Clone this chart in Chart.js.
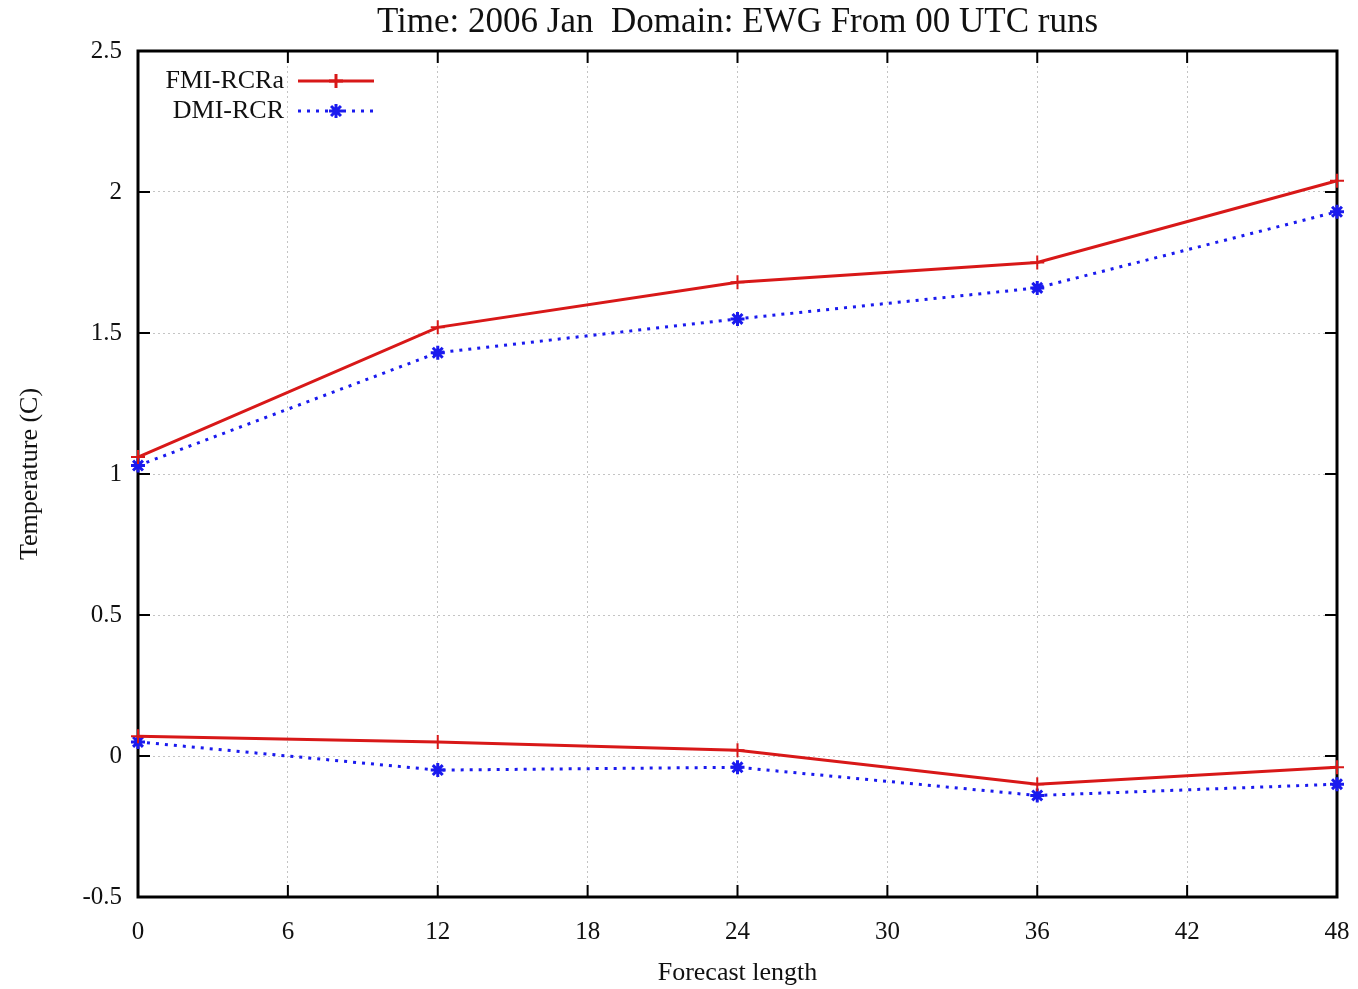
<!DOCTYPE html>
<html>
<head>
<meta charset="utf-8">
<script src="https://cdn.jsdelivr.net/npm/chart.js@4/dist/chart.umd.min.js"></script>
<style>
  html, body { margin: 0; padding: 0; background: #fff; }
  #wrap { width: 1358px; height: 989px; }
</style>
</head>
<body>
<div id="wrap"><canvas id="tempChart"></canvas></div>
<script>
// forecast lengths (hours)
const leadTimes = [0, 12, 24, 36, 48];
// FMI-RCRa: upper curve and lower curve
const fmiUpper = [1.06, 1.52, 1.68, 1.75, 2.04];
const fmiLower = [0.07, 0.05, 0.02, -0.10, -0.04];
// DMI-RCR: upper curve and lower curve
const dmiUpper = [1.03, 1.43, 1.55, 1.66, 1.93];
const dmiLower = [0.05, -0.05, -0.04, -0.14, -0.10];
const xTicks = [0, 6, 12, 18, 24, 30, 36, 42, 48];
const yTicks = [-0.5, 0, 0.5, 1, 1.5, 2, 2.5];
const seriesNames = ['FMI-RCRa', 'DMI-RCR'];
const chartTitle = 'Time: 2006 Jan  Domain: EWG From 00 UTC runs';

const FONT = '"Liberation Serif", "DejaVu Serif", serif';
const RED = '#d81818';
const BLUE = '#1a1aee';

function pts(vals) {
    return leadTimes.map((x, i) => ({ x: x, y: vals[i] }));
}

function fmiSet(vals) {
    return {
        label: seriesNames[0],
        data: pts(vals),
        borderColor: RED,
        backgroundColor: RED,
        borderWidth: 3,
        pointStyle: 'cross',
        pointRadius: 7,
        pointBorderWidth: 2,
        clip: false
    };
}
function dmiSet(vals) {
    return {
        label: seriesNames[1],
        data: pts(vals),
        borderColor: BLUE,
        backgroundColor: BLUE,
        borderWidth: 3,
        borderDash: [3, 6],
        pointStyle: 'star',
        pointRadius: 7,
        pointBorderWidth: 3,
        clip: false
    };
}

// title over the plot, frame, inward ticks and the in-plot legend, gnuplot style
const gnuplotFrame = {
    id: 'gnuplotFrame',
    beforeDatasetsDraw(chart) {
        const { ctx, chartArea: a, scales } = chart;
        ctx.save();
        ctx.strokeStyle = '#000';
        ctx.lineWidth = 2;
        ctx.beginPath();
        xTicks.forEach(v => {
            const px = scales.x.getPixelForValue(v);
            ctx.moveTo(px, a.bottom); ctx.lineTo(px, a.bottom - 12);
            ctx.moveTo(px, a.top); ctx.lineTo(px, a.top + 12);
        });
        yTicks.forEach(v => {
            const py = scales.y.getPixelForValue(v);
            ctx.moveTo(a.left, py); ctx.lineTo(a.left + 12, py);
            ctx.moveTo(a.right, py); ctx.lineTo(a.right - 12, py);
        });
        ctx.stroke();
        ctx.lineWidth = 3;
        ctx.strokeRect(a.left, a.top, a.right - a.left, a.bottom - a.top);
        ctx.restore();
    },
    afterDraw(chart) {
        const { ctx, chartArea: a } = chart;
        ctx.save();
        ctx.fillStyle = '#111';
        ctx.font = '35px ' + FONT;
        ctx.textAlign = 'center';
        ctx.textBaseline = 'middle';
        ctx.fillText(chartTitle, (a.left + a.right) / 2, 23);

        const rows = [chart.data.datasets[0], chart.data.datasets[2]];
        ctx.font = '26px ' + FONT;
        ctx.textAlign = 'right';
        rows.forEach((ds, i) => {
            const y = a.top + 30 + i * 30;
            const x0 = a.left + 160;
            ctx.fillStyle = '#111';
            ctx.fillText(ds.label, a.left + 146, y);
            ctx.strokeStyle = ds.borderColor;
            ctx.lineWidth = ds.borderWidth;
            ctx.setLineDash(ds.borderDash || []);
            ctx.beginPath();
            ctx.moveTo(x0, y); ctx.lineTo(x0 + 76, y);
            ctx.stroke();
            ctx.setLineDash([]);
            Chart.helpers.drawPoint(ctx, {
                pointStyle: ds.pointStyle, radius: ds.pointRadius,
                borderWidth: ds.pointBorderWidth, rotation: 0
            }, x0 + 38, y);
        });
        ctx.restore();
    }
};

document.addEventListener('DOMContentLoaded', () => {
    const ctx = document.getElementById('tempChart').getContext('2d');
    new Chart(ctx, {
        type: 'line',
        data: {
            datasets: [fmiSet(fmiUpper), fmiSet(fmiLower), dmiSet(dmiUpper), dmiSet(dmiLower)]
        },
        options: {
            responsive: true,
            maintainAspectRatio: false,
            animation: false,
            layout: { padding: { left: 0, right: 21, top: 51, bottom: 0 } },
            plugins: {
                legend: { display: false },
                tooltip: { enabled: false },
                title: { display: false }
            },
            scales: {
                x: {
                    type: 'linear',
                    min: 0,
                    max: 48,
                    afterFit: s => { s.height = 92; s.paddingLeft = 0; s.paddingRight = 0; },
                    afterBuildTicks: s => { s.ticks = xTicks.map(v => ({ value: v })); },
                    grid: { color: '#c4c4c4', drawTicks: false, lineWidth: 1 },
                    border: { display: false, dash: [2, 3] },
                    ticks: { color: '#111', padding: 20, font: { family: FONT, size: 25 } },
                    title: {
                        display: true,
                        text: 'Forecast length',
                        color: '#111',
                        font: { family: FONT, size: 26 },
                        padding: { top: 0, bottom: 0 }
                    }
                },
                y: {
                    type: 'linear',
                    min: -0.5,
                    max: 2.5,
                    afterFit: s => { s.width = 138; s.paddingTop = 0; s.paddingBottom = 0; },
                    afterBuildTicks: s => { s.ticks = yTicks.map(v => ({ value: v })); },
                    grid: { color: '#c4c4c4', drawTicks: false, lineWidth: 1 },
                    border: { display: false, dash: [2, 3] },
                    ticks: {
                        color: '#111', padding: 16, font: { family: FONT, size: 25 },
                        callback: v => String(v)
                    },
                    title: {
                        display: true,
                        text: 'Temperature (C)',
                        color: '#111',
                        font: { family: FONT, size: 26 },
                        padding: { top: 15, bottom: 0 }
                    }
                }
            }
        },
        plugins: [gnuplotFrame]
    });
});
</script>
</body>
</html>
